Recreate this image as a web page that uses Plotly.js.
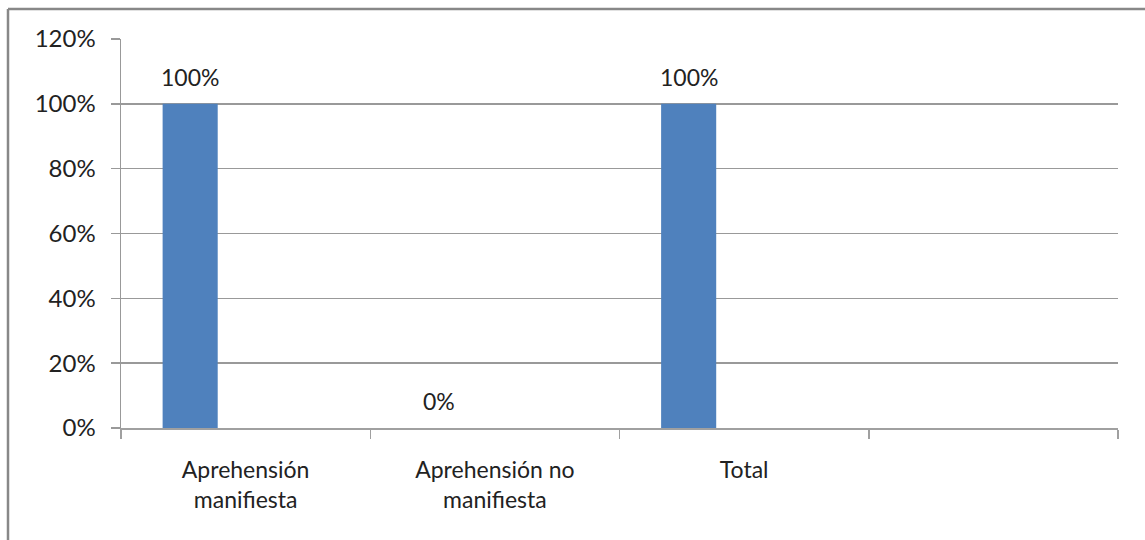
<!DOCTYPE html>
<html>
<head>
<meta charset="utf-8">
<script src="https://cdn.plot.ly/plotly-3.0.1.min.js"></script>
<style>html,body{margin:0;padding:0;background:#fff;overflow:hidden}#chart{width:1145px;height:540px}</style>
</head>
<body>
<div id="chart"></div>
<script>
const categories = ["Aprehensión manifiesta", "Aprehensión no manifiesta", "Total", "(vacío)"];
const tickLabels = ["Aprehensión<br>manifiesta", "Aprehensión no<br>manifiesta", "Total", ""];
const values = [1, 0, 1, null];
const valueLabels = ["100%", "0%", "100%", ""];
const yTicks = [0, 0.2, 0.4, 0.6, 0.8, 1.0, 1.2];

const FONT = "Lato, 'Open Sans', sans-serif";
const L = 121, R = 1118, T = 39, B = 428;
const pw = R - L, ph = B - T;
const BAR_W = 0.221, BAR_OFF = -0.333;

const trace = {
  type: "bar",
  x: categories,
  y: values,
  marker: {color: "#4F81BD"},
  width: BAR_W,
  offset: BAR_OFF,
  hoverinfo: "none"
};

const annotations = values.map((v, i) => v === null ? null : ({
  xref: "x", yref: "y",
  x: i + BAR_OFF + BAR_W / 2, y: v,
  text: valueLabels[i], showarrow: false,
  yanchor: "middle", yshift: 27,
  font: {family: FONT, size: 23, color: "#222"}
})).filter(a => a);

const layout = {
  width: 1145, height: 540,
  margin: {l: L, r: 1145 - R, t: T, b: 540 - B},
  paper_bgcolor: "#fff", plot_bgcolor: "#fff",
  showlegend: false,
  font: {family: FONT, size: 24, color: "#222"},
  xaxis: {
    type: "category",
    categoryorder: "array",
    categoryarray: categories,
    tickvals: categories,
    ticktext: tickLabels,
    range: [-0.5, 3.5],
    tickson: "boundaries",
    ticks: "outside", ticklen: 9, tickwidth: 1.5, tickcolor: "#a0a0a0",
    showline: true, linecolor: "#a0a0a0", linewidth: 2,
    showgrid: false, zeroline: false,
    tickfont: {family: FONT, size: 23, color: "#222"},
    ticklabelstandoff: 20,
    fixedrange: true
  },
  yaxis: {
    range: [0, 1.2],
    tickvals: yTicks,
    tickformat: ".0%",
    ticks: "outside", ticklen: 9, tickwidth: 1.5, tickcolor: "#999",
    showline: true, linecolor: "#999", linewidth: 1.5,
    showgrid: true, gridcolor: "#999", gridwidth: 1.5,
    zeroline: false,
    tickfont: {family: FONT, size: 24, color: "#222"},
    ticklabelstandoff: 10,
    fixedrange: true
  },
  annotations: annotations,
  shapes: [
    {type: "line", xref: "paper", yref: "paper",
     x0: (8 - L) / pw, x1: (1150 - L) / pw, y0: (B - 9) / ph, y1: (B - 9) / ph,
     line: {color: "#888", width: 2.5}},
    {type: "line", xref: "paper", yref: "paper",
     x0: (8 - L) / pw, x1: (8 - L) / pw, y0: (B - 9) / ph, y1: (B - 545) / ph,
     line: {color: "#888", width: 2.5}}
  ]
};

Plotly.newPlot("chart", [trace], layout, {staticPlot: true, displayModeBar: false});
</script>
</body>
</html>
